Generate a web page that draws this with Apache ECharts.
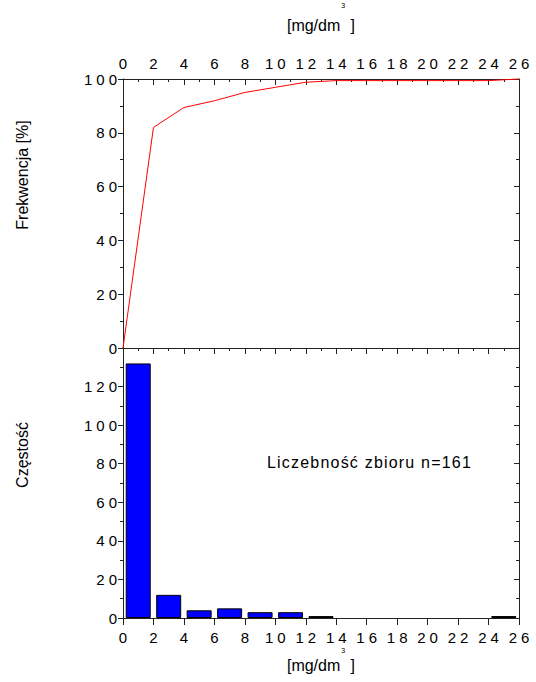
<!DOCTYPE html>
<html><head><meta charset="utf-8">
<script src="https://cdn.jsdelivr.net/npm/echarts@6/dist/echarts.min.js"></script>
<style>html,body{margin:0;padding:0;background:#fff}#c{width:536px;height:682px}</style>
</head><body><div id="c"></div>
<script>
// ---- data ----
const binCenters = [1, 3, 5, 7, 9, 11, 13, 15, 17, 19, 21, 23, 25];
const counts = [132, 12, 4, 5, 3, 3, 1, 0, 0, 0, 0, 0, 1];
const cumX = [0, 2, 4, 6, 8, 10, 12, 14, 16, 18, 20, 22, 24, 26];
const cumPct = [0, 82.0, 89.4, 91.9, 95.0, 96.9, 98.8, 99.4, 99.4, 99.4, 99.4, 99.4, 99.4, 100];
const unitMain = '[mg/dm';
const unitSup = '3';
const unitEnd = ' ]';
const yNameTop = 'Frekwencja [%]';
const yNameBottom = 'Częstość';
const note = 'Liczebność zbioru n=161';

const FONT = '"Liberation Sans", Arial, sans-serif';
const AX = '#222';

const chart = echarts.init(document.getElementById('c'), null, {renderer: 'svg'});

function frameAxis(grid, pos, extra) {
  return Object.assign({
    gridIndex: grid, position: pos, type: 'value',
    axisLine: {show: true, onZero: false, lineStyle: {color: AX, width: 1}},
    axisTick: {show: false}, axisLabel: {show: false}, splitLine: {show: false}
  }, extra || {});
}
const tickStyle = {color: AX, width: 1};
const labelStyle = {color: '#000', fontSize: 15, fontFamily: FONT};

const barData = binCenters.map((x, i) => [x, counts[i] === 0 ? null : counts[i]]);
const lineData = cumX.map((x, i) => [x, cumPct[i]]);

const unitName = '{a|' + unitMain + '}{s|' + unitSup + '}{a|' + unitEnd + '}';

chart.setOption({
  animation: false,
  grid: [
    {left: 123, right: 17, top: 79, height: 269},
    {left: 123, right: 17, top: 348, height: 270}
  ],
  xAxis: [
    frameAxis(0, 'top', {
      min: 0, max: 26, interval: 2,
      axisTick: {show: true, inside: true, length: 6, lineStyle: tickStyle},
      minorTick: {show: true, splitNumber: 2, length: 3, lineStyle: tickStyle},
      axisLabel: Object.assign({show: true, margin: 8}, labelStyle),
      name: unitName, nameLocation: 'middle', nameGap: 46,
      nameTextStyle: {rich: {
        a: {fontSize: 16, fontFamily: FONT, color: '#000', verticalAlign: 'bottom'},
        s: {fontSize: 7, fontFamily: FONT, color: '#000', verticalAlign: 'bottom', padding: [0, 1, 24, 1]}
      }}
    }),
    frameAxis(0, 'bottom', {min: 0, max: 26}),
    frameAxis(1, 'top', {
      min: 0, max: 26, interval: 2,
      axisTick: {show: true, inside: true, length: 6, lineStyle: tickStyle},
      minorTick: {show: true, splitNumber: 2, length: 3, lineStyle: tickStyle}
    }),
    frameAxis(1, 'bottom', {
      min: 0, max: 26, interval: 2,
      axisTick: {show: true, inside: false, length: 7, lineStyle: tickStyle},
      axisLabel: Object.assign({show: true, margin: 12}, labelStyle),
      name: unitName, nameLocation: 'middle', nameGap: 29,
      nameTextStyle: {rich: {
        a: {fontSize: 16, fontFamily: FONT, color: '#000', verticalAlign: 'bottom'},
        s: {fontSize: 7, fontFamily: FONT, color: '#000', verticalAlign: 'bottom', padding: [0, 1, 19, 1]}
      }}
    })
  ],
  yAxis: [
    frameAxis(0, 'left', {
      min: 0, max: 100, interval: 20,
      axisTick: {show: true, inside: false, length: 5, lineStyle: tickStyle},
      minorTick: {show: true, splitNumber: 2, length: 3, lineStyle: tickStyle},
      axisLabel: Object.assign({show: true, margin: 6}, labelStyle)
    }),
    frameAxis(0, 'right', {
      min: 0, max: 100, interval: 20,
      axisTick: {show: true, inside: true, length: 5, lineStyle: tickStyle},
      minorTick: {show: true, splitNumber: 2, length: 3, lineStyle: tickStyle}
    }),
    frameAxis(1, 'left', {
      min: 0, max: 140, interval: 20,
      axisTick: {show: true, inside: false, length: 5, lineStyle: tickStyle},
      minorTick: {show: true, splitNumber: 2, length: 3, lineStyle: tickStyle},
      axisLabel: Object.assign({show: true, margin: 6, showMaxLabel: false}, labelStyle)
    }),
    frameAxis(1, 'right', {
      min: 0, max: 140, interval: 20,
      axisTick: {show: true, inside: true, length: 5, lineStyle: tickStyle},
      minorTick: {show: true, splitNumber: 2, length: 3, lineStyle: tickStyle}
    })
  ],
  series: [
    {type: 'line', xAxisIndex: 0, yAxisIndex: 0, data: lineData, showSymbol: false, symbol: 'none',
     lineStyle: {color: '#ff0000', width: 1}, clip: false, z: 5},
    {type: 'bar', xAxisIndex: 3, yAxisIndex: 2, data: barData, barWidth: 25,
     itemStyle: {color: '#0000ff', borderColor: '#000', borderWidth: 1}}
  ],
  graphic: [
    {type: 'text', x: 22, y: 175, rotation: Math.PI / 2,
     style: {text: yNameTop, font: '16px ' + FONT, fill: '#000', align: 'center', verticalAlign: 'middle'}},
    {type: 'text', x: 22, y: 455, rotation: Math.PI / 2,
     style: {text: yNameBottom, font: '16px ' + FONT, fill: '#000', align: 'center', verticalAlign: 'middle'}},
    {type: 'text', x: 267, y: 462,
     style: {text: note, font: '16px ' + FONT, fill: '#000', align: 'left', verticalAlign: 'middle'}}
  ]
});

function spaceText() {
  document.querySelectorAll('#c svg text').forEach(t => {
    const s = t.textContent;
    if (/^\d+$/.test(s) && s !== unitSup) {
      const sp = 4;
      t.setAttribute('letter-spacing', sp);
      const a = t.getAttribute('text-anchor');
      if (a === 'middle') t.setAttribute('dx', sp / 2);
      else if (a === 'end') t.setAttribute('dx', sp);
    } else if (s === note) {
      t.setAttribute('letter-spacing', 1.2);
    }
  });
}
chart.on('finished', spaceText);
setTimeout(spaceText, 50);
</script></body></html>
